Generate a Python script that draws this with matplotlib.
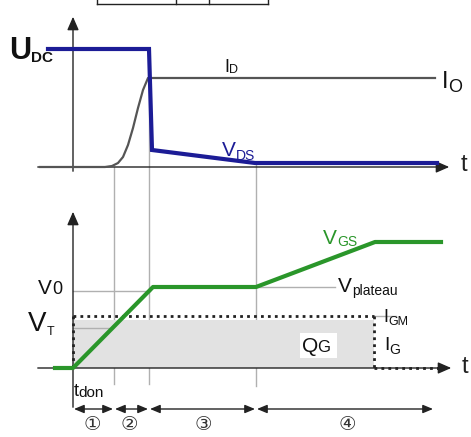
import matplotlib
matplotlib.use("Agg")
import matplotlib.pyplot as plt
from matplotlib.patches import Rectangle

# ---- data (diagram coordinates; y grows downward) ----
# top panel: drain-source voltage
vds_t = [48, 149, 152, 255, 437]
vds_v = [49, 49, 150, 163, 163]
# drain current rising then flat at I_O
id_t = [40, 105, 112, 118, 123, 128, 133, 138, 143, 148, 435]
id_v = [167, 167, 166, 163, 157, 145, 128, 108, 90, 78, 78]
# bottom panel: gate-source voltage
vgs_t = [55, 73, 153, 256, 375, 441]
vgs_v = [368, 368, 287, 287, 242, 242]
# gate current rectangle
ig_t = [73, 374]
ig_level = 316
# phase boundaries
phase_edges = [73, 114, 149, 256, 434]
phase_labels = ["①", "②", "③", "④"]

W, H = 471, 437
fig = plt.figure(figsize=(W / 100, H / 100), dpi=100)
ax = fig.add_axes([0, 0, 1, 1])
ax.set_xlim(0, W)
ax.set_ylim(H, 0)
ax.axis("off")

blue = "#1c1c96"
green = "#2a962a"
gray = "#555555"
lgray = "#b0b0b0"
FONT = "Liberation Sans"

# table fragment at top
ax.plot([97, 268], [4, 4], color="#222222", lw=1)
for x in [97, 176, 209, 268]:
    ax.plot([x, x], [0, 4], color="#222222", lw=1)

# vertical phase guide lines
for x, y0, y1 in [(114, 167, 384), (149, 78, 384), (256, 163, 386)]:
    ax.plot([x, x], [y0, y1], color=lgray, lw=1, zorder=1)

# axes (top)
ax.annotate("", xy=(73, 14), xytext=(73, 174),
            arrowprops=dict(arrowstyle="-|>,head_length=0.8,head_width=0.35", color="#222222", lw=1))
ax.annotate("", xy=(452, 167), xytext=(35, 167),
            arrowprops=dict(arrowstyle="-|>,head_length=0.8,head_width=0.35", color="#222222", lw=1))
ax.text(464, 165, "t", fontsize=17, family=FONT, ha="center", va="center", color="#222222")

# axes (bottom)
ax.annotate("", xy=(73, 209), xytext=(73, 410),
            arrowprops=dict(arrowstyle="-|>,head_length=0.8,head_width=0.35", color="#222222", lw=1))
ax.annotate("", xy=(454, 368), xytext=(35, 368),
            arrowprops=dict(arrowstyle="-|>,head_length=0.8,head_width=0.35", color="#222222", lw=1))
ax.text(465, 367, "t", fontsize=17, family=FONT, ha="center", va="center", color="#222222")

# top curves
ax.plot(id_t, id_v, color=gray, lw=1.6, zorder=3)
ax.plot(vds_t, vds_v, color=blue, lw=3, zorder=4, solid_joinstyle="miter")

# bottom: gate charge shading
ax.add_patch(Rectangle((ig_t[0], ig_level + 4), ig_t[1] - ig_t[0], 368 - ig_level - 4,
                       facecolor="#e2e2e2", edgecolor="none", zorder=1))
ax.add_patch(Rectangle((300, 333), 37, 25, facecolor="white", edgecolor="none", zorder=2))
ax.plot([ig_t[0], ig_t[1]], [ig_level, ig_level], color="#222222", lw=2, ls=(0, (1, 1.5)), zorder=3)
ax.plot([ig_t[0], ig_t[0]], [ig_level, 368], color="#222222", lw=2, ls=(0, (1, 1.5)), zorder=3)
ax.plot([ig_t[1], ig_t[1]], [ig_level, 368], color="#222222", lw=2, ls=(0, (1, 1.5)), zorder=3)
ax.plot([ig_t[1], 445], [368, 368], color="#222222", lw=2, ls=(0, (1, 1.5)), zorder=3)
ax.plot([ig_t[1], 396], [ig_level, ig_level], color=lgray, lw=1, zorder=2)

# reference level lines
ax.plot([73, 150], [291, 291], color=lgray, lw=1, zorder=1)
ax.plot([256, 335], [287, 287], color=lgray, lw=1, zorder=1)
ax.plot([73, 112], [328, 328], color=lgray, lw=1, zorder=1)

ax.plot(vgs_t, vgs_v, color=green, lw=3, zorder=4)

# phase arrows
ay = 409
for a, b in zip(phase_edges[:-1], phase_edges[1:]):
    ax.annotate("", xy=(a + 1, ay), xytext=(b - 1, ay),
                arrowprops=dict(arrowstyle="<|-|>,head_length=0.6,head_width=0.25",
                                color="#222222", lw=1, shrinkA=0, shrinkB=0))
for lab, cx in zip(phase_labels, [92, 129, 203, 347]):
    ax.text(cx, 425, lab, fontsize=14, family=["DejaVu Sans", "Noto Sans CJK SC"],
            ha="center", va="center", color="#333333")

# labels
def lab(x, y, main, sub, size, subsize, color="#111111", weight="normal", dx=0, dy=5):
    t = ax.text(x, y, main, fontsize=size, family=FONT, color=color, weight=weight,
                ha="left", va="center")
    fig.canvas.draw()
    bb = t.get_window_extent()
    inv = ax.transData.inverted()
    x1 = inv.transform((bb.x1, bb.y0))[0]
    ax.text(x1 + dx, y + dy, sub, fontsize=subsize, family=FONT, color=color,
            weight=weight, ha="left", va="center")
    return t

lab(9, 51, "U", "DC", 22, 11, weight="bold", dy=7)
lab(224, 67, "I", "D", 13, 9, dy=3)
lab(442, 82, "I", "O", 17, 13, dy=6)
lab(222, 151, "V", "DS", 15, 10, color=blue, dy=5)
lab(323, 238, "V", "GS", 15, 10, color=green, dy=4)
lab(338, 286, "V", "plateau", 15, 10, dy=5)
lab(383, 318, "I", "GM", 13, 9, dy=4)
lab(384, 346, "I", "G", 14, 10, dy=4)
lab(38, 289, "V", "0", 15, 13, dy=1)
lab(28, 324, "V", "T", 20, 9, dy=8)
ax.text(302, 346, "Q", fontsize=15, family=FONT, color="#111111", ha="left", va="center", zorder=5)
ax.text(317, 347, "G", fontsize=12, family=FONT, color="#111111", ha="left", va="center", zorder=5)
ax.text(74, 392, "t", fontsize=13, family=FONT, color="#111111", ha="left", va="center")
ax.text(78.5, 393, "don", fontsize=11, family=FONT, color="#111111", ha="left", va="center")

fig.savefig("out.png", dpi=100)
